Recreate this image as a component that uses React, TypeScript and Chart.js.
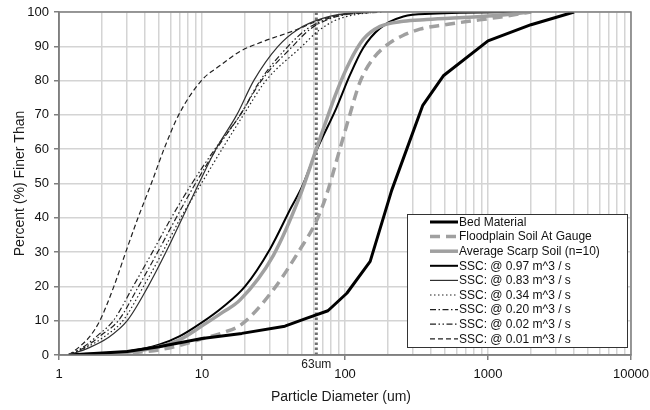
import React, { useEffect, useRef } from 'react';
import { Chart, registerables } from 'chart.js';

Chart.register(...registerables);

// ---- Data (particle diameter in um, percent finer than) ----
const bedD = [1.17, 3, 5, 10, 19, 38, 53, 76, 103, 150, 212, 350, 490, 1000, 2000, 4000];
const bedP = [0, 1, 2.4, 4.8, 6.3, 8.4, 10.6, 12.9, 18, 27.3, 48, 72.8, 81.5, 91.6, 96.3, 100];

const floodD = [1.17, 3, 5, 7, 10, 14, 19, 31.5, 48, 63, 74, 92, 108, 127, 158, 206, 250, 334, 500, 709, 1200, 2000];
const floodP = [0, 0.6, 1.5, 2.8, 4.7, 6.5, 9, 19, 30.5, 39, 46.5, 60, 70, 79.5, 86.5, 91, 93, 95, 96.3, 97.2, 98.5, 100];

const scarpD = [1.17, 2, 3, 5, 7, 10, 14, 18.4, 31.5, 48, 63, 87, 108, 134, 176, 256, 373, 1000, 2000];
const scarpP = [0, 0.3, 0.8, 2.4, 4.5, 8.5, 12.5, 16, 29, 46, 60, 76.5, 85.5, 92, 95.8, 97.3, 97.8, 98.8, 100];

const ssc097D = [1.17, 2, 3, 5, 7, 10, 14, 20, 30, 42, 50, 63, 87, 108, 134, 176, 256, 400, 2000];
const ssc097P = [0, 0.4, 1, 3, 5.5, 9.5, 14, 20, 31, 43, 49, 59.5, 72, 81.5, 89.5, 95.3, 98.7, 99.5, 100];

const ssc083D = [1.17, 1.6, 2.2, 3.0, 4.2, 5.6, 7.3, 9.5, 12.5, 17.5, 23, 34, 47, 68, 100, 150];
const ssc083P = [0, 2, 5, 10, 20, 30, 40, 50, 60, 70, 80, 90, 95, 98, 99.5, 100];

const ssc034D = [1.17, 1.6, 2.1, 2.8, 3.9, 5.3, 7.1, 9.9, 13.8, 19.5, 28, 50, 65, 85, 120, 170];
const ssc034P = [0, 2.5, 5.5, 10, 20, 30, 40, 50, 60, 70, 80, 90, 94.5, 97.5, 99.3, 100];

const ssc020D = [1.17, 1.55, 2.0, 2.6, 3.6, 4.9, 6.6, 9.0, 12.6, 18.5, 26, 43, 57, 78, 110, 160];
const ssc020P = [0, 2.5, 6, 10, 20, 30, 40, 50, 60, 70, 80, 90, 95, 98, 99.5, 100];

const ssc002D = [1.17, 1.5, 1.9, 2.4, 3.3, 4.5, 6.1, 8.5, 12.3, 18.5, 25.5, 40, 54, 75, 105, 150];
const ssc002P = [0, 2.5, 6, 10, 20, 30, 40, 50, 60, 70, 80, 90, 95, 98, 99.5, 100];

const ssc001D = [1.17, 1.4, 1.65, 1.93, 2.42, 2.93, 3.57, 4.42, 5.42, 6.87, 9.9, 13.5, 18.4, 26, 47, 65, 88, 180];
const ssc001P = [0, 2.5, 5.5, 10, 20, 30, 40, 50, 60, 70, 80, 84.5, 88.5, 91.2, 95, 97.5, 99, 100];

const markerD = [63, 63];
const markerP = [0, 100];
const markerLabel = '63um';

const seriesNames = [
  'Bed Material',
  'Floodplain Soil At Gauge',
  'Average Scarp Soil (n=10)',
  'SSC: @ 0.97 m^3 / s',
  'SSC: @ 0.83 m^3 / s',
  'SSC: @ 0.34 m^3 / s',
  'SSC: @ 0.20 m^3 / s',
  'SSC: @ 0.02 m^3 / s',
  'SSC: @ 0.01 m^3 / s',
];

const xTickValues = [1, 10, 100, 1000, 10000];
const yTickStep = 10;
const xTitle = 'Particle Diameter (um)';
const yTitle = 'Percent (%) Finer Than';

const FONT = "'Liberation Sans', Arial, Helvetica, sans-serif";

const pts = (d: number[], p: number[]) => d.map((v, i) => ({ x: v, y: p[i] }));

function isPow10(v: number) {
  const l = Math.log10(v);
  return Math.abs(l - Math.round(l)) < 1e-9;
}

const allTicks: number[] = [];
for (let e = 0; e < 4; e++) {
  for (let s = 1; s < 10; s++) allTicks.push(s * Math.pow(10, e));
}
allTicks.push(10000);

const overlayPlugin = {
  id: 'overlay',
  afterDraw(chart: any) {
    const ctx = chart.ctx;
    const a = chart.chartArea;
    const xs = chart.scales.x;
    ctx.save();
    // plot border
    ctx.strokeStyle = '#7f7f7f';
    ctx.lineWidth = 1.5;
    ctx.setLineDash([]);
    ctx.strokeRect(a.left, a.top, a.right - a.left, a.bottom - a.top);

    // axis titles
    ctx.fillStyle = '#1a1a1a';
    ctx.font = `14px ${FONT}`;
    ctx.textAlign = 'center';
    ctx.textBaseline = 'middle';
    ctx.fillText(xTitle, 341, 397);
    ctx.save();
    ctx.translate(20, (a.top + a.bottom) / 2);
    ctx.rotate(-Math.PI / 2);
    ctx.fillText(yTitle, 0, 0);
    ctx.restore();

    // 63um label
    ctx.font = `12px ${FONT}`;
    ctx.fillText(markerLabel, xs.getPixelForValue(markerD[0]), 365);

    // legend
    const lx1 = 407, ly1 = 214, lx2 = 627, ly2 = 347;
    ctx.fillStyle = '#ffffff';
    ctx.fillRect(lx1, ly1, lx2 - lx1, ly2 - ly1);
    ctx.strokeStyle = '#333333';
    ctx.lineWidth = 1;
    ctx.strokeRect(lx1 + 0.5, ly1 + 0.5, lx2 - lx1, ly2 - ly1);
    const rowH = 14.6;
    ctx.textAlign = 'left';
    ctx.font = `12px ${FONT}`;
    seriesNames.forEach((name, i) => {
      const ds = chart.data.datasets[i];
      const y = ly1 + 8 + i * rowH;
      ctx.beginPath();
      ctx.strokeStyle = ds.borderColor;
      ctx.lineWidth = ds.borderWidth;
      ctx.setLineDash(ds.borderDash || []);
      ctx.moveTo(430, y);
      ctx.lineTo(458, y);
      ctx.stroke();
      ctx.setLineDash([]);
      ctx.fillStyle = '#111111';
      ctx.fillText(name, 459, y + 0.5);
    });
    ctx.restore();
  },
};

export default function App() {
  const ref = useRef<HTMLCanvasElement | null>(null);
  useEffect(() => {
    if (!ref.current) return;
    const mk = (label: string, d: number[], p: number[], color: string, width: number, dash: number[], smooth = true) => ({
      label,
      data: pts(d, p),
      borderColor: color,
      backgroundColor: color,
      borderWidth: width,
      borderDash: dash,
      pointRadius: 0,
      fill: false,
      tension: smooth ? 0.4 : 0,
      cubicInterpolationMode: smooth ? 'monotone' : 'default',
      borderCapStyle: 'butt',
      borderJoinStyle: 'round',
    });
    const datasets: any[] = [
      mk(seriesNames[0], bedD, bedP, '#000000', 3, [], false),
      mk(seriesNames[1], floodD, floodP, '#a0a0a0', 3.5, [10, 6]),
      mk(seriesNames[2], scarpD, scarpP, '#a0a0a0', 3.5, []),
      mk(seriesNames[3], ssc097D, ssc097P, '#000000', 2, []),
      mk(seriesNames[4], ssc083D, ssc083P, '#303030', 1.2, []),
      mk(seriesNames[5], ssc034D, ssc034P, '#202020', 1.2, [1.5, 2.5]),
      mk(seriesNames[6], ssc020D, ssc020P, '#202020', 1.2, [6, 2.5, 1.5, 2.5]),
      mk(seriesNames[7], ssc002D, ssc002P, '#202020', 1.2, [6, 2.5, 1.5, 2.5, 1.5, 2.5]),
      mk(seriesNames[8], ssc001D, ssc001P, '#202020', 1.2, [5, 3]),
      {
        label: 'marker',
        data: pts(markerD, markerP),
        borderColor: '#6e6e6e',
        borderWidth: 3,
        borderDash: [2.5, 2.5],
        pointRadius: 0,
        fill: false,
        tension: 0,
      },
    ];
    Chart.defaults.font.family = FONT;
    const chart = new Chart(ref.current, {
      type: 'line',
      data: { datasets },
      options: {
        animation: false,
        responsive: false,
        maintainAspectRatio: false,
        parsing: true,
        layout: { padding: { left: 0, right: 19, top: 12, bottom: 0 } },
        plugins: { legend: { display: false }, tooltip: { enabled: false } },
        scales: {
          x: {
            type: 'logarithmic',
            min: 1,
            max: 10000,
            afterBuildTicks: (axis: any) => {
              axis.ticks = allTicks.map((v) => ({ value: v, major: isPow10(v) }));
            },
            afterFit: (axis: any) => {
              axis.height = 55;
              axis.paddingRight = 0;
              axis.paddingLeft = 0;
            },
            ticks: {
              autoSkip: false,
              maxRotation: 0,
              minRotation: 0,
              padding: 7,
              color: '#111111',
              font: { size: 13, family: FONT },
              callback: (v: any) => (xTickValues.includes(Number(v)) ? String(v) : ''),
            },
            grid: {
              color: '#d4d4d4',
              lineWidth: 1.5,
              tickLength: 5,
              tickColor: (c: any) => (c.tick && isPow10(c.tick.value) ? '#7f7f7f' : 'rgba(0,0,0,0)'),
              tickWidth: 1.5,
            },
            border: { color: '#7f7f7f', width: 1.5 },
            title: { display: false },
          },
          y: {
            type: 'linear',
            min: 0,
            max: 100,
            afterFit: (axis: any) => {
              axis.width = 59;
              axis.paddingTop = 0;
              axis.paddingBottom = 0;
            },
            ticks: {
              stepSize: yTickStep,
              padding: 5,
              color: '#111111',
              font: { size: 13, family: FONT },
            },
            grid: {
              color: '#d4d4d4',
              lineWidth: 1.5,
              tickLength: 5,
              tickColor: '#7f7f7f',
              tickWidth: 1.5,
            },
            border: { color: '#7f7f7f', width: 1.5 },
            title: { display: false },
          },
        },
      },
      plugins: [overlayPlugin],
    } as any);
    return () => chart.destroy();
  }, []);
  return (
    <div style={{ position: 'fixed', left: 0, top: 0, width: 650, height: 410, background: '#fff' }}>
      <canvas ref={ref} width={650} height={410} style={{ width: 650, height: 410 }} />
    </div>
  );
}
